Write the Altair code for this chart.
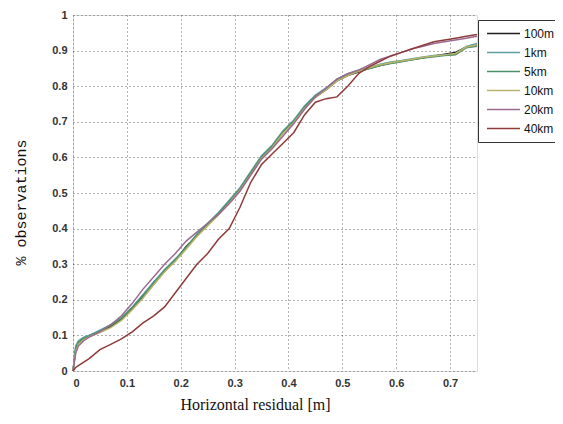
import altair as alt
import pandas as pd

xs = [0, 0.005, 0.01, 0.02, 0.03, 0.05, 0.07, 0.09, 0.11, 0.13, 0.15, 0.17, 0.19, 0.21,
      0.23, 0.25, 0.27, 0.29, 0.31, 0.33, 0.35, 0.37, 0.39, 0.41, 0.43, 0.45, 0.47, 0.49,
      0.51, 0.53, 0.55, 0.57, 0.59, 0.61, 0.63, 0.65, 0.67, 0.69, 0.71, 0.73, 0.75]

y_100m = [0, 0.06, 0.08, 0.09, 0.10, 0.11, 0.125, 0.145, 0.175, 0.21, 0.25, 0.28, 0.31, 0.35,
          0.38, 0.41, 0.44, 0.475, 0.51, 0.555, 0.60, 0.63, 0.67, 0.70, 0.74, 0.77, 0.79, 0.815,
          0.83, 0.84, 0.85, 0.858, 0.865, 0.87, 0.875, 0.88, 0.885, 0.89, 0.895, 0.91, 0.915]
y_1km = [0, 0.07, 0.085, 0.095, 0.10, 0.115, 0.13, 0.15, 0.18, 0.215, 0.25, 0.285, 0.315, 0.345,
         0.385, 0.415, 0.445, 0.48, 0.515, 0.56, 0.605, 0.635, 0.675, 0.705, 0.745, 0.775, 0.795, 0.82,
         0.835, 0.845, 0.853, 0.862, 0.868, 0.872, 0.877, 0.882, 0.886, 0.888, 0.89, 0.912, 0.92]
y_5km = [0, 0.065, 0.08, 0.092, 0.098, 0.112, 0.128, 0.148, 0.178, 0.212, 0.245, 0.282, 0.312, 0.348,
         0.382, 0.412, 0.442, 0.477, 0.512, 0.558, 0.602, 0.632, 0.672, 0.702, 0.742, 0.772, 0.792, 0.818,
         0.832, 0.842, 0.85, 0.858, 0.864, 0.869, 0.874, 0.879, 0.883, 0.886, 0.888, 0.908, 0.912]
y_10km = [0, 0.055, 0.075, 0.088, 0.096, 0.108, 0.122, 0.142, 0.172, 0.205, 0.242, 0.278, 0.308, 0.342,
          0.378, 0.408, 0.438, 0.472, 0.508, 0.552, 0.598, 0.628, 0.668, 0.698, 0.738, 0.768, 0.79, 0.815,
          0.83, 0.842, 0.852, 0.86, 0.866, 0.871, 0.876, 0.881, 0.885, 0.888, 0.892, 0.91, 0.916]
y_20km = [0, 0.05, 0.07, 0.085, 0.095, 0.11, 0.13, 0.155, 0.19, 0.23, 0.265, 0.30, 0.33, 0.365,
          0.39, 0.415, 0.44, 0.47, 0.505, 0.55, 0.595, 0.625, 0.66, 0.695, 0.735, 0.77, 0.795, 0.82,
          0.835, 0.845, 0.86, 0.875, 0.885, 0.895, 0.905, 0.912, 0.92, 0.925, 0.93, 0.935, 0.94]
y_40km = [0, 0.01, 0.015, 0.025, 0.035, 0.06, 0.075, 0.09, 0.11, 0.135, 0.155, 0.18, 0.22, 0.26,
          0.30, 0.33, 0.37, 0.40, 0.46, 0.53, 0.58, 0.61, 0.64, 0.67, 0.72, 0.755, 0.765, 0.77,
          0.80, 0.835, 0.855, 0.87, 0.885, 0.895, 0.905, 0.915, 0.925, 0.93, 0.935, 0.94, 0.945]

series_names = ["100m", "1km", "5km", "10km", "20km", "40km"]
series_values = [y_100m, y_1km, y_5km, y_10km, y_20km, y_40km]
series_colors = ["#1e1e1e", "#5f9ea0", "#4e8f6a", "#b8b46a", "#9a6a90", "#8e3a3a"]

rows = []
for name, ys in zip(series_names, series_values):
    for i, (x, y) in enumerate(zip(xs, ys)):
        rows.append({"series": name, "x": x, "y": y, "order": i})
df = pd.DataFrame(rows)

serif = "Liberation Serif"
mono = "Liberation Mono"
sans = "Liberation Sans"

chart = alt.Chart(df).mark_line(strokeWidth=1.5).encode(
    x=alt.X("x:Q",
            scale=alt.Scale(domain=[0, 0.75], nice=False, zero=False),
            axis=alt.Axis(values=[0, 0.1, 0.2, 0.3, 0.4, 0.5, 0.6, 0.7], format="~g",
                          title="Horizontal residual [m]", titleFont=serif, titleFontSize=16,
                          titleFontWeight="normal", titleColor="#111",
                          titleX=182, titleY=25, titleAnchor="middle", titleBaseline="top",
                          labelFont=sans, labelFontSize=11, labelFontWeight="bold",
                          labelColor="#333", labelPadding=6, tickSize=0,
                          domain=False, gridColor="#555", gridDash=[1, 3], gridWidth=1,
                          gridOpacity=0.9)),
    y=alt.Y("y:Q",
            scale=alt.Scale(domain=[0, 1], nice=False),
            axis=alt.Axis(values=[0, 0.1, 0.2, 0.3, 0.4, 0.5, 0.6, 0.7, 0.8, 0.9, 1], format="~g",
                          title="% observations", titleFont=mono, titleFontSize=15,
                          titleFontWeight="normal", titleColor="#111",
                          titleX=-53, titleY=187, titleAngle=-90, titleAlign="center",
                          titleBaseline="middle",
                          labelFont=sans, labelFontSize=11, labelFontWeight="bold",
                          labelColor="#333", labelPadding=6, tickSize=0,
                          domain=False, gridColor="#555", gridDash=[1, 3], gridWidth=1,
                          gridOpacity=0.9)),
    color=alt.Color("series:N",
                    scale=alt.Scale(domain=series_names, range=series_colors),
                    legend=alt.Legend(title=None, orient="none", legendX=405, legendY=5,
                                      symbolType="stroke", symbolSize=1089, clipHeight=17,
                                      symbolStrokeWidth=1.5, symbolOffset=3, rowPadding=2,
                                      labelFont=sans, labelFontSize=12, labelColor="#111",
                                      labelOffset=3, padding=5, strokeColor="#333",
                                      fillColor="white", labelLimit=200)),
    order="order:Q",
    detail="series:N",
).properties(
    width=404,
    height=356,
    autosize=alt.AutoSizeParams(type="none"),
    padding={"left": 65, "top": 7, "right": 78, "bottom": 41},
).configure_view(
    stroke="#222", strokeWidth=1.5
).configure(background="white")

chart.save("out.html", embed_options={"renderer": "svg", "actions": False})
